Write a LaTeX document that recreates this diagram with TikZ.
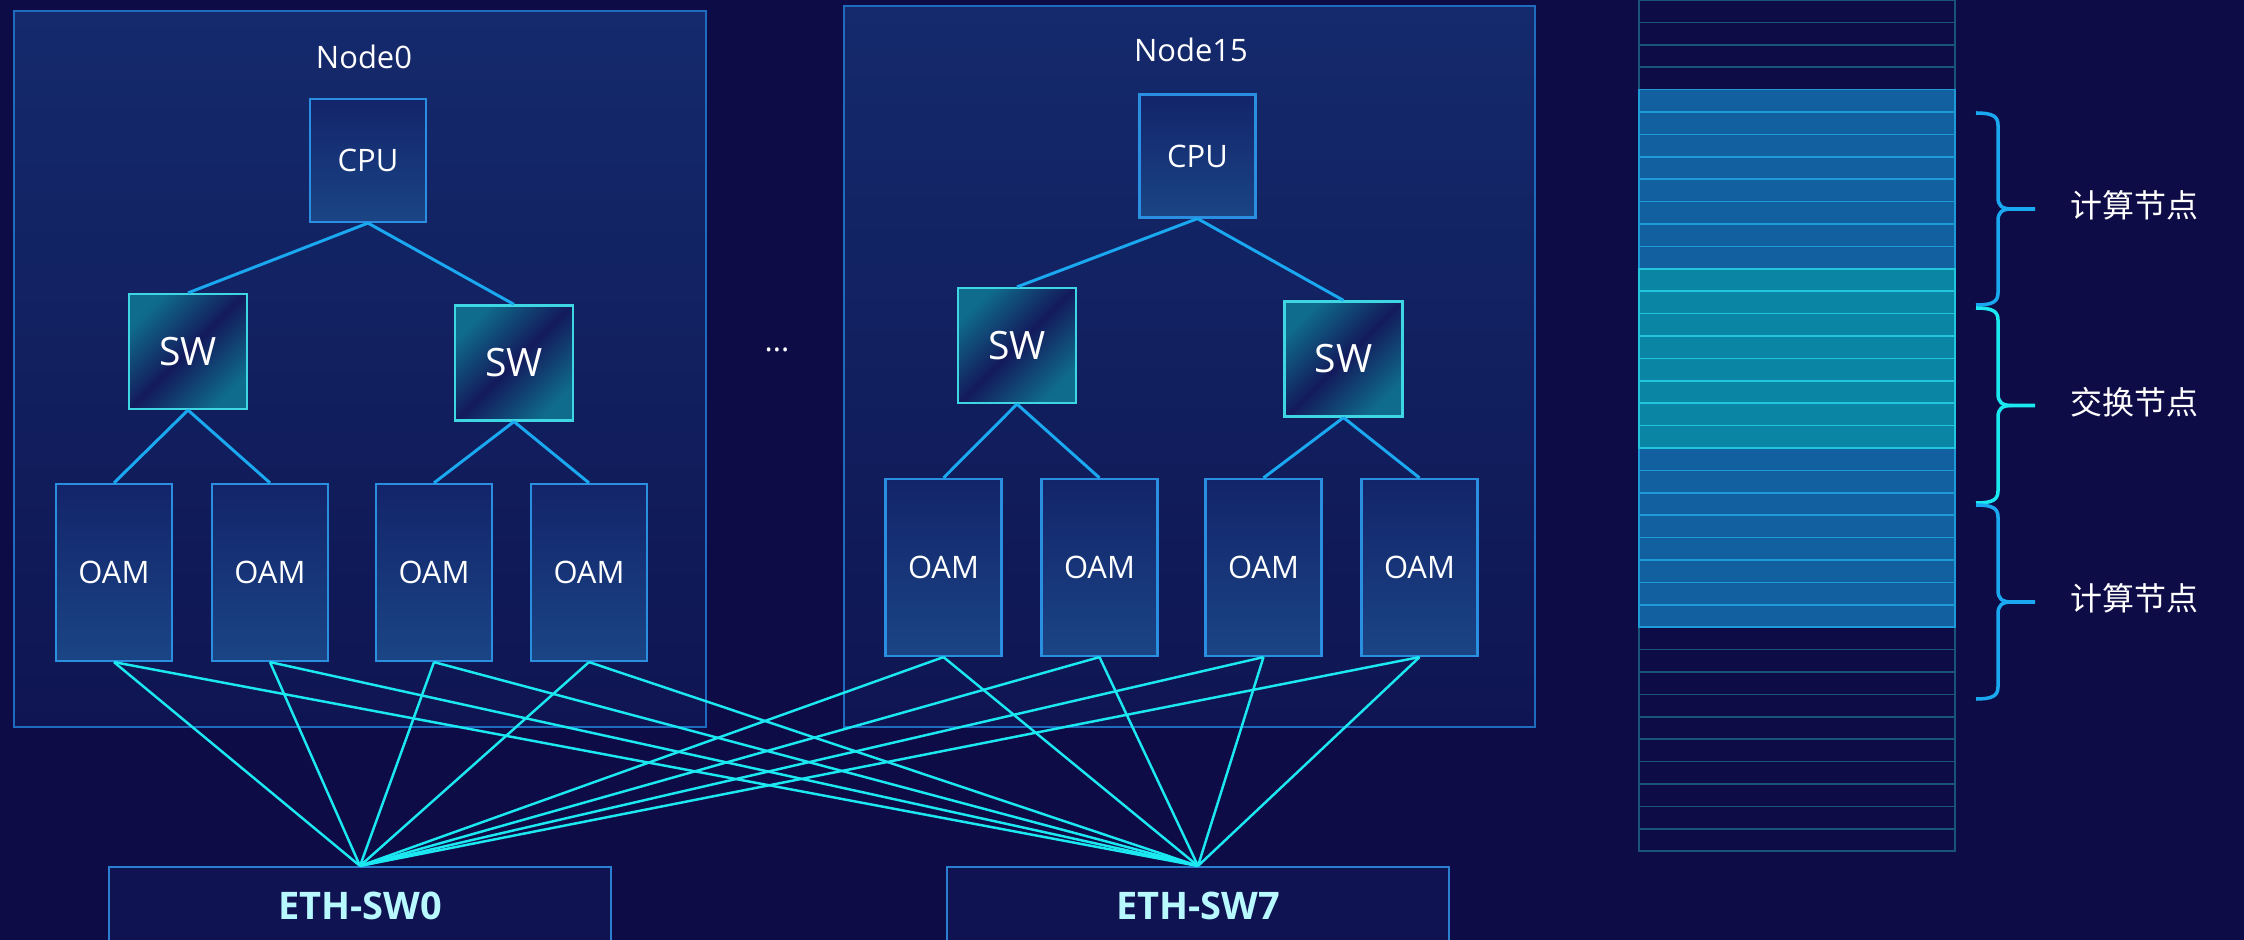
\documentclass[tikz,border=0pt]{standalone}
\usepackage{fontspec}
\setmainfont{Open Sans}
\newfontfamily\cjk{Noto Sans CJK SC}

\definecolor{bgnavy}{HTML}{0E0C46}
\definecolor{frametop}{HTML}{142A6C}
\definecolor{framebot}{HTML}{0F1552}
\definecolor{frameedge}{HTML}{1F6BBE}
\definecolor{chipedge}{HTML}{2A8FE0}
\definecolor{chiptop}{HTML}{13246A}
\definecolor{chipbot}{HTML}{1A4585}
\definecolor{swedge}{HTML}{3ED6E2}
\definecolor{swteal}{HTML}{0F6C8C}
\definecolor{swdark}{HTML}{131A5C}
\definecolor{linkblue}{HTML}{1AA8F0}
\definecolor{linkcyan}{HTML}{1CE8F2}
\definecolor{ethfill}{HTML}{0F1352}
\definecolor{ethedge}{HTML}{2A7FD0}
\definecolor{ethtext}{HTML}{B8F8FF}
\definecolor{rowdarkline}{HTML}{1A5478}
\definecolor{rowblue}{HTML}{12609F}
\definecolor{rowblueline}{HTML}{1E9AD6}
\definecolor{rowteal}{HTML}{0A86A4}
\definecolor{rowtealline}{HTML}{22C6DC}

\tikzset{
  frame/.style={draw=frameedge, line width=0.45pt, top color=frametop, bottom color=framebot},
  title/.style={text=white, font=\fontsize{8.8}{10}\selectfont},
  chip/.style={draw=chipedge, line width=0.6pt, top color=chiptop, bottom color=chipbot,
    text=white, font=\fontsize{8.8}{10}\selectfont, inner sep=0pt},
  cpubox/.style={chip, minimum width=1.16cm, minimum height=1.23cm},
  oambox/.style={chip, minimum width=1.16cm, minimum height=1.77cm},
  swbox/.style={draw=swedge, line width=0.6pt, top color=swteal, bottom color=swteal,
    middle color=swdark, shading angle=45, text=white, inner sep=0pt,
    font=\fontsize{11.1}{13}\selectfont, minimum width=1.18cm, minimum height=1.15cm},
  ethbox/.style={draw=ethedge, line width=0.6pt, fill=ethfill, text=ethtext, inner sep=0pt,
    font=\bfseries\fontsize{10.8}{12}\selectfont, minimum width=5.02cm, minimum height=0.77cm},
  uplink/.style={draw=linkblue, line width=0.85pt},
  ethlink/.style={draw=linkcyan, line width=0.7pt},
  rowoff/.style={fill=bgnavy, draw=rowdarkline, line width=0.5pt},
  rowcalc/.style={fill=rowblue, draw=rowblueline, line width=0.5pt},
  rowswap/.style={fill=rowteal, draw=rowtealline, line width=0.5pt},
  bracket/.style={line width=1pt, line join=round},
  tag/.style={text=white, font=\cjk\fontsize{9.1}{11}\selectfont}
}

% curly bracket beside the rack: colour, top, bottom
\newcommand{\spanbrace}[3]{%
  \pgfmathsetmacro{\bmid}{(#2+#3)/2}
  \draw[bracket, #1] (1976,#2) .. controls (1992,#2) and (1998,{#2+3}) .. (1998,{#2+12})
    -- (1998,{\bmid-12}) .. controls (1998,{\bmid-3}) and (2002,\bmid) .. (2012,\bmid) -- (2035,\bmid);
  \draw[bracket, #1] (2012,\bmid) .. controls (2002,\bmid) and (1998,{\bmid+3}) .. (1998,{\bmid+12})
    -- (1998,{#3-12}) .. controls (1998,{#3-3}) and (1992,#3) .. (1976,#3);
}

\begin{document}
\begin{tikzpicture}[x=0.01cm, y=-0.01cm]
  \useasboundingbox (0,0) rectangle (2244,940);
  \clip (0,0) rectangle (2244,940);
  \fill[bgnavy] (0,0) rectangle (2244,940);

  % server frames
  \node[frame, minimum width=6.92cm, minimum height=7.16cm] (frameA) at (360,369) {};
  \node[frame, minimum width=6.91cm, minimum height=7.21cm] (frameB) at (1189.5,366.5) {};
  \node[title] (titleA) at (364,57) {Node0};
  \node[title] (titleB) at (1191,50) {Node15};
  \node[title] (dots) at (777,350) {...};

  % chips of Node0
  \node[cpubox] (cpuA) at (368,160.5) {CPU};
  \node[swbox] (swA1) at (188,351.5) {SW};
  \node[swbox] (swA2) at (514,363) {SW};
  \node[oambox] (oamA1) at (114,572.5) {OAM};
  \node[oambox] (oamA2) at (270,572.5) {OAM};
  \node[oambox] (oamA3) at (434,572.5) {OAM};
  \node[oambox] (oamA4) at (589,572.5) {OAM};

  % chips of Node15
  \node[cpubox] (cpuB) at (1197.5,156) {CPU};
  \node[swbox] (swB1) at (1017,345.5) {SW};
  \node[swbox] (swB2) at (1343.5,359) {SW};
  \node[oambox] (oamB1) at (943.5,567.5) {OAM};
  \node[oambox] (oamB2) at (1099.5,567.5) {OAM};
  \node[oambox] (oamB3) at (1263.5,567.5) {OAM};
  \node[oambox] (oamB4) at (1419.5,567.5) {OAM};

  % links inside the servers
  \foreach \a/\b in {cpuA/swA1, cpuA/swA2, swA1/oamA1, swA1/oamA2, swA2/oamA3, swA2/oamA4,
                     cpuB/swB1, cpuB/swB2, swB1/oamB1, swB1/oamB2, swB2/oamB3, swB2/oamB4}
    \draw[uplink] (\a.south) -- (\b.north);

  % ethernet switches
  \node[ethbox] (ethA) at (360,905.5) {ETH-SW0};
  \node[ethbox] (ethB) at (1198,905.5) {ETH-SW7};
  \foreach \o in {oamA1, oamA2, oamA3, oamA4, oamB1, oamB2, oamB3, oamB4} {
    \draw[ethlink] (\o.south) -- (ethA.north);
    \draw[ethlink] (\o.south) -- (ethB.north);
  }

  % rack column
  \foreach \i in {0,...,3}
    \draw[rowoff] (1639,{\i*22.4}) rectangle (1955,{\i*22.4+22.4});
  \foreach \i in {28,...,37}
    \draw[rowoff] (1639,{\i*22.4}) rectangle (1955,{\i*22.4+22.4});
  \foreach \i in {4,...,11}
    \draw[rowcalc] (1639,{\i*22.4}) rectangle (1955,{\i*22.4+22.4});
  \foreach \i in {20,...,27}
    \draw[rowcalc] (1639,{\i*22.4}) rectangle (1955,{\i*22.4+22.4});
  \foreach \i in {12,...,19}
    \draw[rowswap] (1639,{\i*22.4}) rectangle (1955,{\i*22.4+22.4});

  % braces and tags
  \spanbrace{linkblue}{113}{305}
  \spanbrace{linkcyan}{308}{503}
  \spanbrace{linkblue}{505}{699}
  \node[tag] (calcA) at (2134,205) {计算节点};
  \node[tag] (swapB) at (2134,402) {交换节点};
  \node[tag] (calcC) at (2134,598) {计算节点};
\end{tikzpicture}
\end{document}
